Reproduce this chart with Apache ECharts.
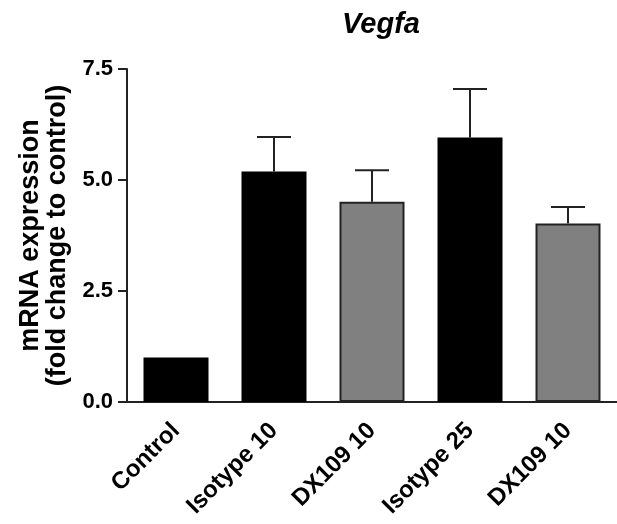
<!DOCTYPE html>
<html>
<head>
<meta charset="utf-8">
<script src="https://cdn.jsdelivr.net/npm/echarts@6/dist/echarts.min.js"></script>
<style>html,body{margin:0;padding:0;background:#fff;}#chart{width:617px;height:524px;}</style>
</head>
<body>
<div id="chart"></div>
<script>
const categories = ['Control', 'Isotype 10', 'DX109 10', 'Isotype 25', 'DX109 10'];
const means = [1.0, 5.19, 4.51, 5.96, 4.02];
const errors = [0, 0.78, 0.71, 1.09, 0.37];
const barColors = ['#000000', '#000000', '#808080', '#000000', '#808080'];
const yTicks = [0, 2.5, 5.0, 7.5];

const FONT = "'Liberation Sans', Arial, sans-serif";
const chart = echarts.init(document.getElementById('chart'));

const barData = means.map((v, i) => ({
  value: v,
  itemStyle: {
    color: barColors[i],
    borderColor: barColors[i] === '#000000' ? '#000' : '#222',
    borderWidth: 2
  }
}));
const errData = means.map((v, i) => [i, v, v + errors[i]]);

chart.setOption({
  animation: false,
  title: {
    text: 'Vegfa',
    left: 376,
    textAlign: 'center',
    top: 5,
    textStyle: { fontFamily: FONT, fontSize: 29, fontWeight: 'bold', fontStyle: 'italic', color: '#000' }
  },
  grid: { left: 127, top: 69, width: 498, height: 333, containLabel: false },
  xAxis: {
    type: 'category',
    data: categories,
    axisLine: { lineStyle: { color: '#222', width: 2 } },
    axisTick: { alignWithLabel: true, length: 7, lineStyle: { color: '#222', width: 2 } },
    axisLabel: { rotate: 45, interval: 0, margin: 25, fontFamily: FONT, fontSize: 24, fontWeight: 'bold', color: '#000' }
  },
  yAxis: {
    type: 'value',
    min: 0,
    max: yTicks[yTicks.length - 1],
    interval: 2.5,
    name: 'mRNA expression\n(fold change to control)',
    nameLocation: 'middle',
    nameGap: 56,
    nameTextStyle: { fontFamily: FONT, fontSize: 27, fontWeight: 'bold', color: '#000', lineHeight: 27 },
    splitLine: { show: false },
    axisLine: { show: true, lineStyle: { color: '#222', width: 2 } },
    axisTick: { show: true, length: 9, lineStyle: { color: '#222', width: 2 } },
    axisLabel: { margin: 14, fontFamily: FONT, fontSize: 22, fontWeight: 'bold', color: '#000', formatter: v => v.toFixed(1) }
  },
  series: [
    { type: 'bar', data: barData, barWidth: 65, z: 2 },
    {
      type: 'custom',
      data: errData,
      z: 1,
      renderItem: function (params, api) {
        const i = api.value(0);
        const base = api.coord([i, api.value(1)]);
        const top = api.coord([i, api.value(2)]);
        if (api.value(2) - api.value(1) <= 0) return null;
        const hw = 17;
        const style = { stroke: '#222', lineWidth: 2 };
        return {
          type: 'group',
          children: [
            { type: 'line', shape: { x1: base[0], y1: base[1], x2: top[0], y2: top[1] }, style },
            { type: 'line', shape: { x1: top[0] - hw, y1: top[1], x2: top[0] + hw, y2: top[1] }, style }
          ]
        };
      }
    }
  ]
});
</script>
</body>
</html>
